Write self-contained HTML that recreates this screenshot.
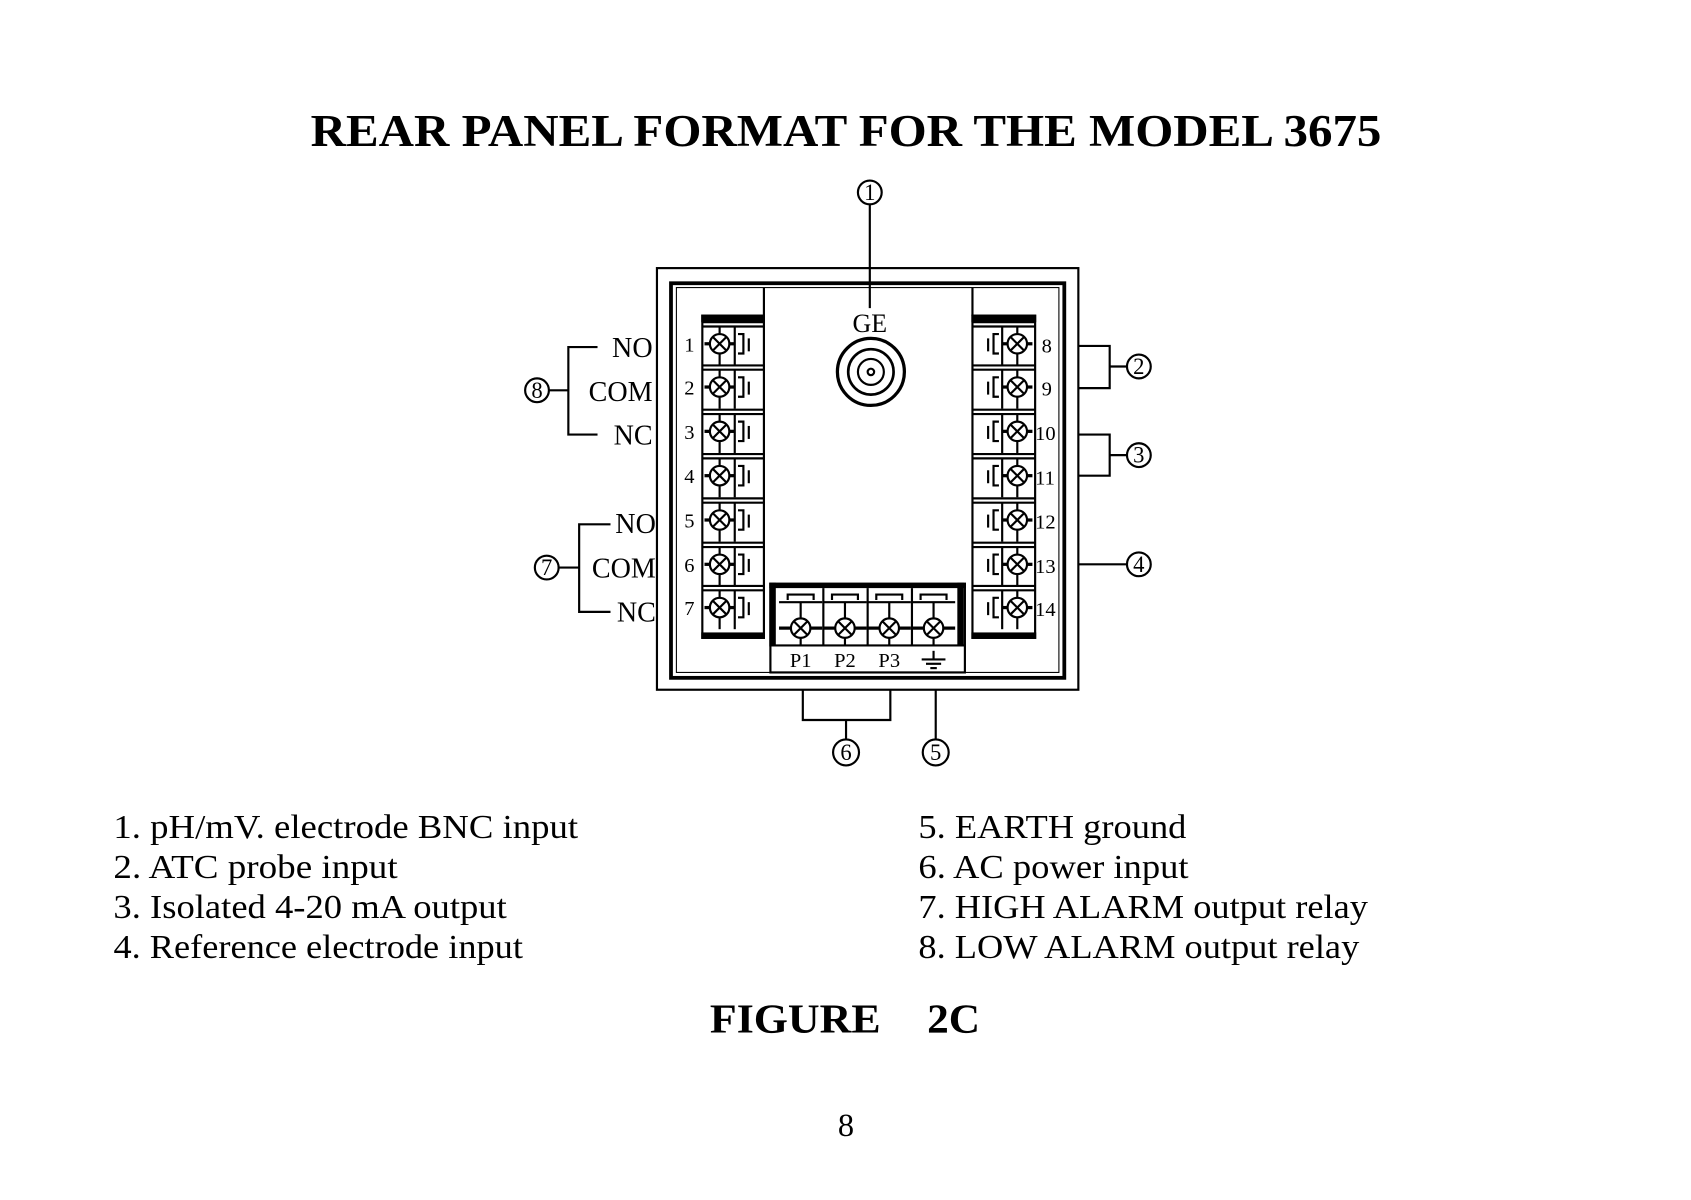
<!DOCTYPE html>
<html><head><meta charset="utf-8"><style>
html,body{margin:0;padding:0;background:#fff;}
svg{display:block;}
text{font-family:"Liberation Serif",serif;fill:#000;}
</style></head><body>
<svg width="1691" height="1200" viewBox="0 0 1565 1110" preserveAspectRatio="none" xmlns="http://www.w3.org/2000/svg">
<defs>
<g id="lc" stroke="#000" fill="none" stroke-width="2">
  <line x1="650" y1="-20" x2="707" y2="-20"/>
  <line x1="650" y1="-16" x2="707" y2="-16"/>
  <line x1="680" y1="-16" x2="680" y2="20"/>
  <circle cx="666" cy="0" r="9"/>
  <line x1="660" y1="-6" x2="672" y2="6"/><line x1="660" y1="6" x2="672" y2="-6"/>
  <line x1="652" y1="0" x2="657" y2="0" stroke-width="3"/>
  <line x1="675" y1="0" x2="680" y2="0" stroke-width="3"/>
  <line x1="666" y1="-16" x2="666" y2="-9"/><line x1="666" y1="9" x2="666" y2="20"/>
  <path d="M683,-9 h5 v18 h-5"/>
  <line x1="693" y1="-5" x2="693" y2="7"/>
</g>
<g id="bc" stroke="#000" fill="none" stroke-width="2">
  <path d="M-12,-20 v-5 h24 v5"/>
  <line x1="-20" y1="-18" x2="20" y2="-18"/>
  <circle cx="0" cy="6" r="9"/>
  <line x1="-6" y1="0" x2="6" y2="12"/><line x1="-6" y1="12" x2="6" y2="0"/>
  <line x1="-20" y1="6" x2="-9" y2="6" stroke-width="3"/><line x1="9" y1="6" x2="20" y2="6" stroke-width="3"/>
  <line x1="0" y1="-18" x2="0" y2="-3"/><line x1="0" y1="15" x2="0" y2="22"/>
</g>
</defs>

<text x="783" y="135" font-size="42" font-weight="bold" text-anchor="middle" textLength="991" lengthAdjust="spacingAndGlyphs">REAR PANEL FORMAT FOR THE MODEL 3675</text>

<g stroke="#000" fill="none" stroke-width="2">
  <rect x="608" y="248" width="390" height="390"/>
  <rect x="621" y="262" width="364" height="365" stroke-width="3.5"/>
  <rect x="626" y="266" width="354" height="356" stroke-width="1"/>
  <line x1="707" y1="266" x2="707" y2="292"/>
  <line x1="900" y1="266" x2="900" y2="292"/>
  <circle cx="805" cy="178" r="11"/>
  <line x1="805" y1="189" x2="805" y2="285"/>
  <circle cx="806" cy="344" r="31" stroke-width="3"/>
  <circle cx="806" cy="344" r="21" stroke-width="2.5"/>
  <circle cx="806" cy="344" r="12"/>
  <circle cx="806" cy="344" r="3"/>
  <rect x="650" y="292" width="57" height="298"/>
  <rect x="650" y="292" width="57" height="5" fill="#000"/>
  <rect x="650" y="586" width="57" height="4" fill="#000"/>
  <rect x="900" y="292" width="58" height="298"/>
  <rect x="900" y="292" width="58" height="5" fill="#000"/>
  <rect x="900" y="586" width="58" height="4" fill="#000"/>
  <rect x="713" y="540" width="180" height="82"/>
  <rect x="713" y="540" width="180" height="3" fill="#000"/>
  <rect x="713" y="540" width="4" height="57" fill="#000"/>
  <rect x="887" y="540" width="4" height="57" fill="#000"/>
  <line x1="713" y1="597" x2="893" y2="597"/>
  <line x1="762" y1="544" x2="762" y2="597"/>
  <line x1="803" y1="544" x2="803" y2="597"/>
  <line x1="844" y1="544" x2="844" y2="597"/>
  <line x1="864" y1="602" x2="864" y2="610"/>
  <line x1="853" y1="610" x2="875" y2="610"/>
  <line x1="857" y1="614" x2="871" y2="614"/>
  <line x1="861" y1="618" x2="867" y2="618"/>
  <path d="M553,321 H526 V402 H553"/>
  <line x1="508" y1="361" x2="526" y2="361"/>
  <circle cx="497" cy="361" r="11"/>
  <path d="M565,485 H536 V566 H565"/>
  <line x1="517" y1="525" x2="536" y2="525"/>
  <circle cx="506" cy="525" r="11"/>
  <path d="M998,320 H1027 V359 H998"/>
  <line x1="1027" y1="339" x2="1043" y2="339"/>
  <circle cx="1054" cy="339" r="11"/>
  <path d="M998,402 H1027 V440 H998"/>
  <line x1="1027" y1="421" x2="1043" y2="421"/>
  <circle cx="1054" cy="421" r="11"/>
  <line x1="998" y1="522" x2="1043" y2="522"/>
  <circle cx="1054" cy="522" r="11"/>
  <path d="M743,638 V666 H824 V638"/>
  <line x1="783" y1="666" x2="783" y2="684"/>
  <circle cx="783" cy="696" r="12"/>
  <line x1="866" y1="638" x2="866" y2="684"/>
  <circle cx="866" cy="696" r="12"/>
</g>

<use href="#lc" y="318"/><use href="#lc" y="358"/><use href="#lc" y="399"/><use href="#lc" y="440"/><use href="#lc" y="481"/><use href="#lc" y="522"/><use href="#lc" y="562"/>
<g transform="translate(1607.5,0) scale(-1,1)">
<use href="#lc" y="318"/><use href="#lc" y="358"/><use href="#lc" y="399"/><use href="#lc" y="440"/><use href="#lc" y="481"/><use href="#lc" y="522"/><use href="#lc" y="562"/>
</g>
<use href="#bc" x="741" y="575"/><use href="#bc" x="782" y="575"/><use href="#bc" x="823" y="575"/><use href="#bc" x="864" y="575"/>

<g font-size="19" text-anchor="middle">
<text x="638" y="325">1</text><text x="638" y="365">2</text><text x="638" y="406">3</text><text x="638" y="447">4</text><text x="638" y="488">5</text><text x="638" y="529">6</text><text x="638" y="569">7</text>
</g>
<g font-size="19">
<text x="964" y="326">8</text><text x="964" y="366">9</text><text x="958" y="407">10</text><text x="958" y="448">11</text><text x="958" y="489">12</text><text x="958" y="530">13</text><text x="958" y="570">14</text>
</g>
<g font-size="19" text-anchor="middle">
<text x="741" y="617">P1</text><text x="782" y="617">P2</text><text x="823" y="617">P3</text>
</g>
<text x="805" y="307" font-size="24" text-anchor="middle">GE</text>

<g font-size="26" text-anchor="end">
<text x="604" y="330">NO</text><text x="604" y="371">COM</text><text x="604" y="411">NC</text>
<text x="607" y="493">NO</text><text x="607" y="534">COM</text><text x="607" y="575">NC</text>
</g>
<g font-size="21" text-anchor="middle">
<text x="805" y="185">1</text>
<text x="497" y="368">8</text><text x="506" y="532">7</text>
<text x="1054" y="346">2</text><text x="1054" y="428">3</text><text x="1054" y="529">4</text>
<text x="783" y="703">6</text><text x="866" y="703">5</text>
</g>

<g font-size="31">
<text x="105" y="775" textLength="430" lengthAdjust="spacingAndGlyphs">1. pH/mV. electrode BNC input</text>
<text x="105" y="812" textLength="263" lengthAdjust="spacingAndGlyphs">2. ATC probe input</text>
<text x="105" y="849" textLength="364" lengthAdjust="spacingAndGlyphs">3. Isolated 4-20 mA output</text>
<text x="105" y="886" textLength="379" lengthAdjust="spacingAndGlyphs">4. Reference electrode input</text>
<text x="850" y="775" textLength="248" lengthAdjust="spacingAndGlyphs">5. EARTH ground</text>
<text x="850" y="812" textLength="250" lengthAdjust="spacingAndGlyphs">6. AC power input</text>
<text x="850" y="849" textLength="416" lengthAdjust="spacingAndGlyphs">7. HIGH ALARM output relay</text>
<text x="850" y="886" textLength="408" lengthAdjust="spacingAndGlyphs">8. LOW ALARM output relay</text>
</g>
<text x="657" y="955" font-size="38" font-weight="bold" textLength="158" lengthAdjust="spacingAndGlyphs">FIGURE</text>
<text x="858" y="955" font-size="38" font-weight="bold" textLength="49" lengthAdjust="spacingAndGlyphs">2C</text>
<text x="783" y="1051" font-size="30" text-anchor="middle">8</text>
</svg>
</body></html>
